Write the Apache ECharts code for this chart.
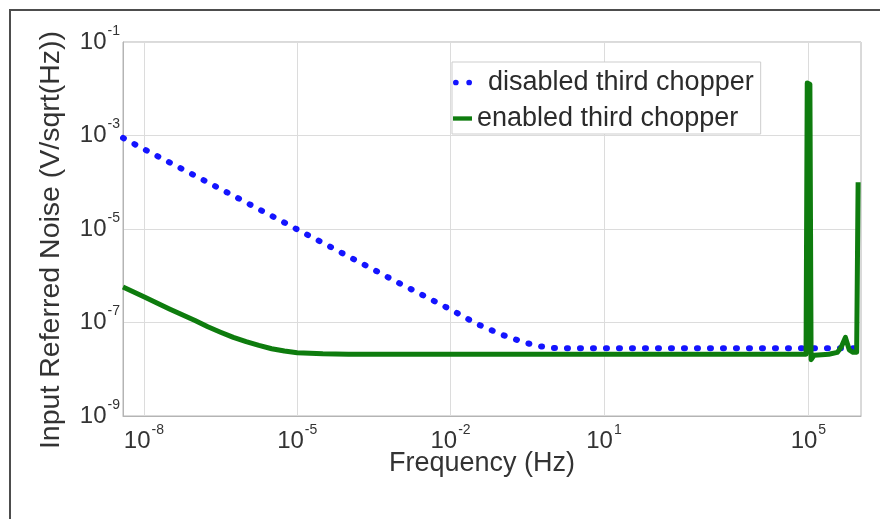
<!DOCTYPE html>
<html>
<head>
<meta charset="utf-8">
<script src="https://cdn.jsdelivr.net/npm/echarts@6/dist/echarts.min.js"></script>
<style>
  html, body { margin: 0; padding: 0; background: #ffffff; }
  #chart { position: absolute; left: 0; top: 0; width: 880px; height: 519px; }
  #frame {
    position: absolute; left: 9px; top: 9px; width: 871px; height: 510px;
    border-top: 2px solid #4d4d4d; border-left: 2px solid #4d4d4d;
    box-sizing: border-box; pointer-events: none;
  }
</style>
</head>
<body>
<div id="chart"></div>
<div id="frame"></div>
<script>
// Input-referred noise spectral density of the amplifier, with and without the third chopper.

const seriesNames = ['disabled third chopper', 'enabled third chopper'];

// Frequency (Hz) and noise (V/sqrt(Hz)) for the disabled case
const freqDisabled  = [3.9e-9, 1e-8, 1e-7, 1e-6, 1e-5, 1e-4, 1e-3, 1e-2, 3.16e-2, 1e-1, 1.78e-1, 3.16e-1, 5.62e-1, 1, 3.16, 10, 1e2, 1e3, 1e4, 1e5, 1e6, 1.07e6];
const noiseDisabled = [8.9e-4, 5.1e-4, 1.38e-4, 3.7e-5, 9.8e-6, 2.6e-6, 6.9e-7, 1.9e-7, 9.5e-8, 5.5e-8, 4.4e-8, 3.6e-8, 3.1e-8, 2.85e-8, 2.8e-8, 2.8e-8, 2.8e-8, 2.8e-8, 2.8e-8, 2.8e-8, 2.8e-8, 2.8e-8];

// Frequency (Hz) and noise (V/sqrt(Hz)) for the enabled case, including the chopper spikes
const freqEnabled  = [3.9e-9, 1e-8, 3.16e-8, 1e-7, 1.78e-7, 3.16e-7, 5.62e-7, 1e-6, 1.78e-6, 3.16e-6, 5.62e-6, 1e-5, 3.16e-5, 1e-4, 1e-3, 1e-2, 1e-1, 1, 10, 1e2, 1e3, 1e4, 9.0e4, 9.5e4, 1.07e5, 1.13e5, 1.3e5, 2.5e5, 3.7e5, 4.4e5, 5.3e5, 6.3e5, 7.5e5, 8.8e5, 9.4e5];
const noiseEnabled = [5.75e-7, 3.55e-7, 1.95e-7, 1.1e-7, 8.1e-8, 6.2e-8, 4.8e-8, 3.9e-8, 3.24e-8, 2.75e-8, 2.45e-8, 2.26e-8, 2.14e-8, 2.09e-8, 2.1e-8, 2.1e-8, 2.1e-8, 2.1e-8, 2.1e-8, 2.1e-8, 2.1e-8, 2.1e-8, 2.1e-8, 1.33e-2, 1.25e-2, 1.6e-8, 2.0e-8, 2.1e-8, 2.3e-8, 3.0e-8, 4.8e-8, 2.6e-8, 2.3e-8, 2.3e-8, 1.0e-4];

// Axis ranges and labelled decades
const xRange = [3.9e-9, 1.07e6];
const yRange = [1e-9, 1e-1];
const xTickValues = [1e-8, 1e-5, 1e-2, 1e1, 1e5];
const yTickValues = [1e-9, 1e-7, 1e-5, 1e-3, 1e-1];

const FONT = '"Liberation Sans", Arial, Helvetica, sans-serif';
const TEXT = '#333333';
const BLUE = '#1414ff';
const GREEN = '#0e7c0e';

function zip(xs, ys) { return xs.map((x, i) => [x, ys[i]]); }
function decadeLabel(v) {
  const e = Math.round(Math.log10(v));
  return '{b|10}{e|' + e + '}';
}
const decadeRich = {
  b: { fontFamily: FONT, fontSize: 24, color: TEXT, lineHeight: 24 },
  e: { fontFamily: FONT, fontSize: 14, color: TEXT, padding: [0, 0, 22, 1] }
};

// Legend keys: two dots for the dotted trace, a short bar for the solid trace
const dotsIcon = 'path://M3,0A3,3 0 1,1 3,6A3,3 0 1,1 3,0Z M17,0A3,3 0 1,1 17,6A3,3 0 1,1 17,0Z';
const barIcon = 'path://M0,0H22V5H0Z';

const chart = echarts.init(document.getElementById('chart'), null, { renderer: 'canvas' });

chart.setOption({
  animation: false,
  backgroundColor: 'transparent',
  grid: {
    left: 123, right: 19, top: 42, bottom: 103,
    show: true, borderColor: '#b4b4b4', borderWidth: 1, backgroundColor: 'transparent'
  },
  legend: {
    data: [
      { name: seriesNames[0], icon: dotsIcon },
      { name: seriesNames[1], icon: barIcon }
    ],
    orient: 'vertical',
    left: 452, top: 62,
    padding: [7, 7, 2, 1],
    itemGap: 9,
    itemWidth: 19, itemHeight: 12,
    backgroundColor: '#ffffff',
    borderColor: '#cdcdcd', borderWidth: 1,
    formatter: name => (name === seriesNames[0] ? '{gap|}' + name : name),
    textStyle: {
      fontFamily: FONT, fontSize: 27, color: '#2b2b2b', lineHeight: 26,
      rich: { gap: { width: 11 } }
    }
  },
  xAxis: {
    type: 'log', logBase: 10,
    min: xRange[0], max: xRange[1],
    name: 'Frequency (Hz)', nameLocation: 'middle', nameGap: 34, nameMoveOverlap: false,
    nameTextStyle: { fontFamily: FONT, fontSize: 27, color: TEXT, padding: [0, 20, 0, 0] },
    axisLine: { show: true, lineStyle: { color: '#b4b4b4', width: 1 } },
    axisTick: { show: false, customValues: xTickValues },
    minorTick: { show: false },
    axisLabel: { customValues: xTickValues, formatter: decadeLabel, margin: 7, rich: decadeRich },
    splitLine: { show: true, lineStyle: { color: '#dcdcdc', width: 1 } }
  },
  yAxis: {
    type: 'log', logBase: 10,
    min: yRange[0], max: yRange[1],
    name: 'Input Referred Noise (V/sqrt(Hz))', nameLocation: 'middle', nameGap: 57, nameRotate: 90,
    nameTextStyle: { fontFamily: FONT, fontSize: 28.5, color: TEXT, padding: [0, 22, 0, 0] },
    axisLine: { show: true, lineStyle: { color: '#b4b4b4', width: 1 } },
    axisTick: { show: false, customValues: yTickValues },
    minorTick: { show: false },
    axisLabel: { customValues: yTickValues, formatter: decadeLabel, margin: 3, rich: decadeRich },
    splitLine: { show: true, lineStyle: { color: '#dcdcdc', width: 1 } }
  },
  series: [
    {
      name: seriesNames[0], type: 'line',
      data: zip(freqDisabled, noiseDisabled),
      symbol: 'none', showSymbol: false,
      color: BLUE,
      lineStyle: { color: BLUE, width: 6, type: [1, 12], cap: 'round' },
      z: 2
    },
    {
      name: seriesNames[1], type: 'line',
      data: zip(freqEnabled, noiseEnabled),
      symbol: 'none', showSymbol: false,
      color: GREEN,
      lineStyle: { color: GREEN, width: 5, join: 'round' },
      z: 3
    }
  ]
});
</script>
</body>
</html>
